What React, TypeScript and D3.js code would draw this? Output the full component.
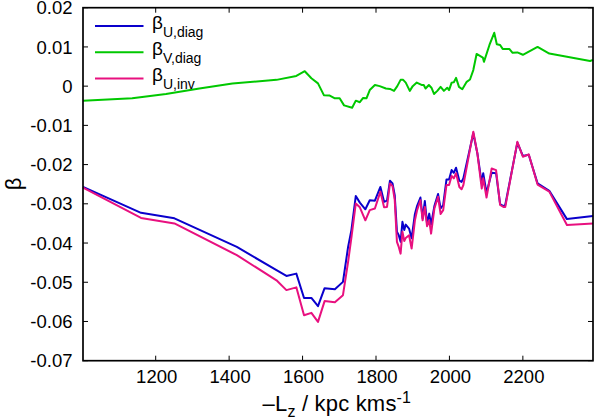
import React from "react";
import * as d3 from "d3";

const lz = [1002, 1160, 1251, 1421, 1529, 1556, 1583, 1604, 1624, 1642, 1660, 1688, 1710, 1724, 1733, 1745, 1756, 1771, 1783, 1797, 1812, 1822, 1830, 1838, 1845, 1851, 1857, 1862, 1867, 1872, 1877, 1881, 1890, 1897, 1906, 1912, 1921, 1927, 1933, 1939, 1945, 1950, 1959, 1969, 1976, 1983, 1992, 1999, 2006, 2012, 2018, 2027, 2033, 2038, 2065, 2076, 2088, 2092, 2101, 2115, 2127, 2138, 2147, 2152, 2185, 2200, 2216, 2240, 2272, 2320, 2391];

const betaUdiag = [-0.0257, -0.0323, -0.0337, -0.0410, -0.0469, -0.0484, -0.0478, -0.0540, -0.0540, -0.0561, -0.0515, -0.0518, -0.0499, -0.0410, -0.0367, -0.0280, -0.0297, -0.0314, -0.0291, -0.0292, -0.0257, -0.0295, -0.0292, -0.0241, -0.0248, -0.0278, -0.0371, -0.0380, -0.0397, -0.0346, -0.0367, -0.0353, -0.0363, -0.0388, -0.0326, -0.0305, -0.0284, -0.0337, -0.0293, -0.0350, -0.0325, -0.0353, -0.0306, -0.0275, -0.0312, -0.0303, -0.0238, -0.0238, -0.0214, -0.0221, -0.0208, -0.0241, -0.0244, -0.0235, -0.0120, -0.0171, -0.0248, -0.0222, -0.0272, -0.0221, -0.0222, -0.0301, -0.0306, -0.0303, -0.0144, -0.0178, -0.0175, -0.0248, -0.0267, -0.0339, -0.0331];

const betaUinv = [-0.0259, -0.0336, -0.0350, -0.0431, -0.0495, -0.0520, -0.0513, -0.0584, -0.0578, -0.0601, -0.0548, -0.0551, -0.0533, -0.0448, -0.0386, -0.0299, -0.0309, -0.0342, -0.0316, -0.0312, -0.0269, -0.0309, -0.0308, -0.0248, -0.0255, -0.0290, -0.0397, -0.0410, -0.0427, -0.0371, -0.0395, -0.0387, -0.0380, -0.0414, -0.0342, -0.0316, -0.0291, -0.0342, -0.0308, -0.0357, -0.0342, -0.0376, -0.0312, -0.0282, -0.0326, -0.0316, -0.0252, -0.0252, -0.0229, -0.0235, -0.0222, -0.0257, -0.0263, -0.0252, -0.0116, -0.0171, -0.0261, -0.0235, -0.0284, -0.0210, -0.0214, -0.0303, -0.0308, -0.0308, -0.0142, -0.0180, -0.0174, -0.0251, -0.0269, -0.0354, -0.0350];

const lzV = [1002, 1136, 1228, 1319, 1409, 1529, 1583, 1606, 1624, 1642, 1658, 1674, 1688, 1701, 1713, 1735, 1745, 1756, 1765, 1774, 1783, 1797, 1810, 1827, 1838, 1849, 1858, 1867, 1874, 1881, 1892, 1900, 1911, 1924, 1930, 1935, 1944, 1951, 1958, 1967, 1976, 1985, 1994, 1999, 2006, 2012, 2018, 2026, 2035, 2047, 2056, 2065, 2074, 2091, 2094, 2109, 2122, 2129, 2138, 2145, 2163, 2172, 2185, 2200, 2240, 2272, 2383, 2391];

const betaVdiag = [-0.0037, -0.0031, -0.0020, -0.0006, 0.0007, 0.0016, 0.0026, 0.0038, 0.0020, 0.0007, -0.0023, -0.0024, -0.0031, -0.0031, -0.0049, -0.0055, -0.0037, -0.0041, -0.0030, -0.0031, -0.0010, 0.0003, 0.0000, -0.0006, -0.0007, -0.0012, 0.0000, 0.0016, 0.0016, 0.0009, -0.0012, 0.0000, 0.0009, 0.0003, 0.0003, -0.0006, 0.0003, -0.0004, -0.0020, -0.0012, -0.0002, -0.0012, -0.0004, -0.0010, 0.0009, 0.0010, 0.0021, -0.0002, -0.0008, 0.0011, 0.0017, 0.0041, 0.0082, 0.0073, 0.0062, 0.0105, 0.0136, 0.0107, 0.0105, 0.0095, 0.0095, 0.0085, 0.0086, 0.0080, 0.0100, 0.0083, 0.0064, 0.0067];

const xTicks = [1200, 1400, 1600, 1800, 2000, 2200];
const yTicks = [0.02, 0.01, 0, -0.01, -0.02, -0.03, -0.04, -0.05, -0.06, -0.07];
const yTickLabels = ["0.02", "0.01", "0", "-0.01", "-0.02", "-0.03", "-0.04", "-0.05", "-0.06", "-0.07"];

const series = [
  { name: "U", sub: "U,diag", xs: lz, ys: betaUdiag, color: "#0a00cc" },
  { name: "V", sub: "V,diag", xs: lzV, ys: betaVdiag, color: "#00c800" },
  { name: "I", sub: "U,inv", xs: lz, ys: betaUinv, color: "#e8107f" },
];

const W = 598;
const H = 420;
const M = { left: 83, right: 5, top: 7.7, bottom: 59.3 };
const FONT = "'Liberation Sans', Arial, Helvetica, sans-serif";

export default function App() {
  const x = d3.scaleLinear().domain([1002, 2391]).range([M.left, W - M.right]);
  const y = d3.scaleLinear().domain([-0.07, 0.02]).range([H - M.bottom, M.top]);
  const x0 = M.left, x1 = W - M.right, y0 = H - M.bottom, y1 = M.top;
  const tl = 5;

  const line = d3.line<[number, number]>().x((d) => x(d[0])).y((d) => y(d[1]));

  return (
    <svg width={W} height={H} style={{ position: "absolute", left: 0, top: 0, background: "#fff" }} fontFamily={FONT}>
      <rect x={0} y={0} width={W} height={H} fill="#fff" />
      {/* ticks */}
      {xTicks.map((t) => (
        <g key={"x" + t}>
          <line x1={x(t)} x2={x(t)} y1={y0} y2={y0 - tl} stroke="#000" strokeWidth={1} />
          <line x1={x(t)} x2={x(t)} y1={y1} y2={y1 + tl} stroke="#000" strokeWidth={1} />
          <text x={x(t) + 1} y={383.3} fontSize={18.5} textAnchor="middle" fill="#000">
            {t}
          </text>
        </g>
      ))}
      {yTicks.map((t, i) => (
        <g key={"y" + t}>
          <line x1={x0} x2={x0 + tl} y1={y(t)} y2={y(t)} stroke="#000" strokeWidth={1} />
          <line x1={x1} x2={x1 - tl} y1={y(t)} y2={y(t)} stroke="#000" strokeWidth={1} />
          <text x={72.5} y={y(t) + 6.6} fontSize={18.5} textAnchor="end" fill="#000">
            {yTickLabels[i]}
          </text>
        </g>
      ))}
      {/* series */}
      <g fill="none" strokeWidth={2} strokeLinejoin="round">
        {series.map((s) => (
          <path key={s.name} d={line(s.xs.map((v, i) => [v, s.ys[i]] as [number, number])) || ""} stroke={s.color} />
        ))}
      </g>
      {/* legend */}
      {series.map((s, i) => {
        const ly = 26 + i * 26.2;
        return (
          <g key={"lg" + s.name}>
            <line x1={95} x2={143.5} y1={ly} y2={ly} stroke={s.color} strokeWidth={2} />
            <text x={152} y={ly + 3} fontSize={19} fill="#000">
              β
              <tspan fontSize={14} dy={8}>{s.sub}</tspan>
            </text>
          </g>
        );
      })}
      {/* frame */}
      <rect x={x0} y={y1} width={x1 - x0} height={y0 - y1} fill="none" stroke="#000" strokeWidth={1.7} />
      {/* axis labels */}
      <text x={21} y={184} fontSize={22} textAnchor="middle" transform="rotate(-90 21 184)" fill="#000">
        β
      </text>
      <text x={262.5} y={411} fontSize={22} letterSpacing={0.2} textAnchor="start" fill="#000">
        –L
        <tspan fontSize={16} dy={5.7}>z</tspan>
        <tspan dy={-5.7}> / kpc kms</tspan>
        <tspan fontSize={16} dy={-8.5}>-1</tspan>
      </text>
    </svg>
  );
}
